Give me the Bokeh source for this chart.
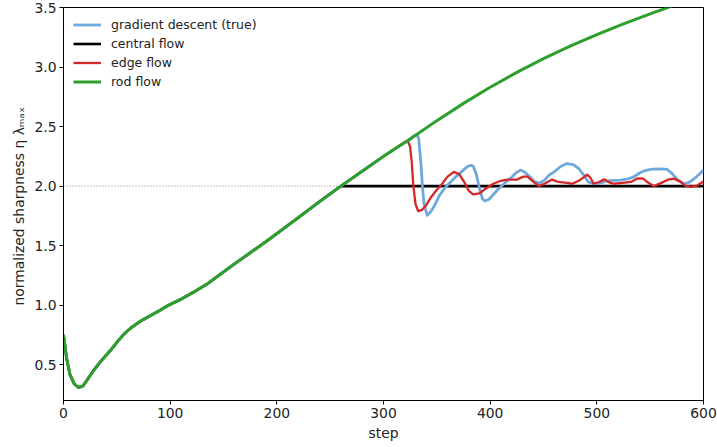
from bokeh.plotting import figure
from bokeh.models import Range1d, Span, Legend, LegendItem, FixedTicker, NumeralTickFormatter
from bokeh.embed import file_html
from bokeh.resources import INLINE

# ---- data ----
rod_steps = [0, 3, 6, 10, 14, 18, 22, 28, 35, 44, 52, 56, 60, 64, 68, 72, 76, 81, 86, 91,
             97, 103, 110, 122, 135, 147, 160, 175, 190, 205, 220, 240, 260, 280, 300,
             325, 350, 375, 400, 425, 450, 475, 500, 525, 550, 575, 600]
rod_vals = [0.75, 0.55, 0.42, 0.34, 0.31, 0.32, 0.37, 0.45, 0.53, 0.62, 0.71, 0.75, 0.785,
            0.815, 0.84, 0.865, 0.885, 0.91, 0.935, 0.96, 0.993, 1.02, 1.05, 1.11, 1.18,
            1.26, 1.345, 1.44, 1.535, 1.635, 1.735, 1.87, 2.0, 2.125, 2.25, 2.395, 2.55,
            2.695, 2.83, 2.955, 3.07, 3.175, 3.272, 3.362, 3.447, 3.527, 3.602]

central_steps = [260, 600]
central_vals = [2.0, 2.0]

edge_branch_steps = [320, 323, 325, 326.5, 328, 330, 332.5, 336, 340, 344, 350, 355, 360,
                     366, 371, 376, 380, 384, 390, 396, 403, 410, 416, 425, 431, 435, 440,
                     445.6, 451, 458, 464, 470, 477, 484, 491, 494, 497, 502, 507, 512,
                     516, 524, 532, 538, 543, 548, 553.4, 560, 567, 572, 578, 583, 588,
                     594, 600]
edge_branch_vals = [2.37, 2.375, 2.33, 2.2, 2.0, 1.85, 1.79, 1.80, 1.84, 1.90, 1.97, 2.02,
                    2.08, 2.12, 2.10, 2.03, 1.96, 1.93, 1.94, 1.98, 2.02, 2.045, 2.055,
                    2.055, 2.08, 2.08, 2.04, 2.0, 2.02, 2.055, 2.035, 2.03, 2.02, 2.05,
                    2.097, 2.07, 2.02, 2.035, 2.057, 2.03, 2.02, 2.028, 2.035, 2.064,
                    2.066, 2.03, 2.0, 2.025, 2.055, 2.063, 2.04, 2.005, 1.993, 2.005, 2.04]

gd_branch_steps = [325, 329, 331.5, 333, 335, 336.5, 338, 341, 344, 348, 353, 358, 363,
                   368, 373, 378, 381.5, 384, 387, 390, 393, 395, 399, 403, 407, 413, 419,
                   424, 428.4, 432, 437, 442, 446, 451, 455, 460, 466, 472, 478, 483, 488,
                   492, 497, 503, 510, 516, 522, 528, 534, 540, 546, 552, 560, 566, 570.6,
                   576, 581.5, 586, 591, 596, 600]
gd_branch_vals = [2.395, 2.425, 2.43, 2.4, 2.2, 2.0, 1.85, 1.755, 1.78, 1.84, 1.93, 1.99,
                  2.035, 2.08, 2.12, 2.16, 2.175, 2.17, 2.1, 1.98, 1.89, 1.875, 1.89, 1.93,
                  1.97, 2.02, 2.065, 2.11, 2.135, 2.12, 2.08, 2.035, 2.025, 2.05, 2.09,
                  2.12, 2.165, 2.19, 2.18, 2.148, 2.09, 2.035, 2.02, 2.025, 2.045, 2.049,
                  2.05, 2.058, 2.075, 2.11, 2.133, 2.142, 2.145, 2.14, 2.105, 2.05, 2.02,
                  2.03, 2.06, 2.1, 2.135]

x_ticks = [0, 100, 200, 300, 400, 500, 600]
y_ticks = [0.5, 1.0, 1.5, 2.0, 2.5, 3.0, 3.5]

labels = ["gradient descent (true)", "central flow", "edge flow", "rod flow"]
colors = ["#6fa8dc", "#000000", "#d62728", "#2ca02c"]

# shared early trajectory (all flows coincide before the edge of stability)
def with_prefix(branch_steps, branch_vals):
    s0 = branch_steps[0]
    pre = [(s, v) for s, v in zip(rod_steps, rod_vals) if s < s0]
    return [s for s, _ in pre] + list(branch_steps), [v for _, v in pre] + list(branch_vals)

gd_x, gd_y = with_prefix(gd_branch_steps, gd_branch_vals)
edge_x, edge_y = with_prefix(edge_branch_steps, edge_branch_vals)
cen_x, cen_y = with_prefix(central_steps, central_vals)

FONT = "DejaVu Sans"

p = figure(width=717, height=447, output_backend="svg", toolbar_location=None,
           x_range=Range1d(0, 600), y_range=Range1d(0.2, 3.5),
           min_border_left=63, min_border_right=14, min_border_top=7, min_border_bottom=47)
p.background_fill_color = "white"
p.border_fill_color = "white"
p.grid.visible = False
p.outline_line_color = "black"
p.outline_line_width = 1

ref = Span(location=2.0, dimension="width", line_color="gray", line_width=1,
           line_dash="1 2", level="underlay")
p.add_layout(ref)

r_cen = p.line(cen_x, cen_y, line_color=colors[1], line_width=2.6, line_join="round")
r_gd = p.line(gd_x, gd_y, line_color=colors[0], line_width=2.8, line_join="round")
r_edge = p.line(edge_x, edge_y, line_color=colors[2], line_width=2.3, line_join="round")
r_rod = p.line(rod_steps, rod_vals, line_color=colors[3], line_width=3, line_join="round")

legend = Legend(items=[LegendItem(label=labels[0], renderers=[r_gd]),
                       LegendItem(label=labels[1], renderers=[r_cen]),
                       LegendItem(label=labels[2], renderers=[r_edge]),
                       LegendItem(label=labels[3], renderers=[r_rod])],
                location="top_left")
legend.margin = 2
legend.padding = 8
legend.spacing = 4
legend.glyph_width = 28
legend.glyph_height = 15
legend.label_height = 15
legend.label_standoff = 10
legend.label_text_font = FONT
legend.label_text_font_size = "12.5px"
legend.label_text_color = "#222222"
legend.border_line_alpha = 0
legend.background_fill_alpha = 0
p.add_layout(legend)

for ax in (p.xaxis[0], p.yaxis[0]):
    ax.axis_line_color = "black"
    ax.axis_line_width = 1
    ax.major_tick_line_color = "black"
    ax.major_tick_out = 4
    ax.major_tick_in = 0
    ax.minor_tick_out = 0
    ax.minor_tick_in = 0
    ax.major_label_text_font = FONT
    ax.major_label_text_font_size = "13.9px"
    ax.major_label_text_color = "#222222"
    ax.major_label_standoff = 3
    ax.axis_label_text_font = FONT
    ax.axis_label_text_font_size = "13.9px"
    ax.axis_label_text_font_style = "normal"
    ax.axis_label_text_color = "#222222"
    ax.axis_label_standoff = 4

p.xaxis.ticker = FixedTicker(ticks=x_ticks)
p.yaxis.ticker = FixedTicker(ticks=y_ticks)
p.yaxis.formatter = NumeralTickFormatter(format="0.0")
p.xaxis.axis_label = "step"
p.yaxis.axis_label = "normalized sharpness  η λₘₐₓ"

open("out.html", "w").write(file_html(p, INLINE))
